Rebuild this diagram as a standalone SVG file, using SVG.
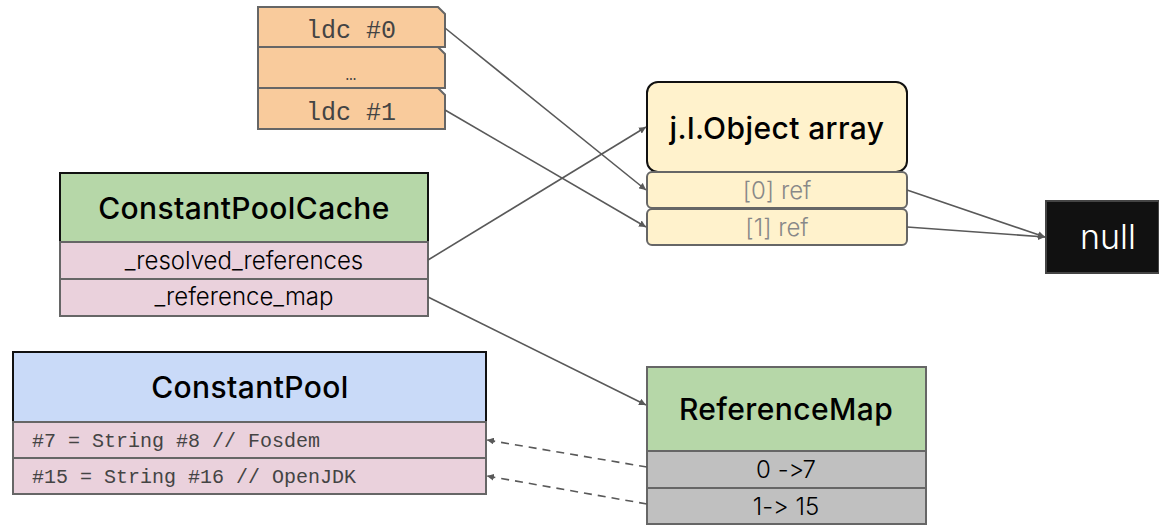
<svg xmlns="http://www.w3.org/2000/svg" width="1159" height="526" viewBox="0 0 1159 526">
<defs>
<marker id="ah" viewBox="0 0 10 10" refX="10" refY="5" markerWidth="7" markerHeight="7" markerUnits="userSpaceOnUse" orient="auto"><path d="M0,0 L10,5 L0,10 z" fill="#595959"/></marker>
<style>
.title{font-family:Inter,"Noto Sans",sans-serif;font-size:30px;font-weight:500;fill:#000;text-anchor:middle;letter-spacing:0.4px}
.row{font-family:Inter,"Noto Sans",sans-serif;font-size:24px;fill:#000;text-anchor:middle;font-weight:300;font-variant-ligatures:none;font-feature-settings:"calt" 0,"liga" 0}
.mono{font-family:"Liberation Mono",monospace;fill:#444}
.conn{stroke:#595959;stroke-width:1.6;fill:none;marker-end:url(#ah)}
.dash{stroke-dasharray:8,6}
.g{stroke:#666;stroke-width:2}
.k{stroke:#111;stroke-width:2}
</style>
</defs>
<rect width="1159" height="526" fill="#fff"/>
<g id="ldc">
<path class="g" d="M258,7 H438 L445,14 V47 H258 Z" fill="#f9cb9c"/>
<path class="g" d="M258,47 H438 L445,54 V88 H258 Z" fill="#f9cb9c"/>
<path class="g" d="M258,88 H438 L445,95 V129 H258 Z" fill="#f9cb9c"/>
<text class="mono" x="351" y="38" font-size="25" text-anchor="middle">ldc #0</text>
<text class="mono" x="351" y="80" font-size="18" text-anchor="middle">…</text>
<text class="mono" x="351" y="120" font-size="25" text-anchor="middle">ldc #1</text>
</g>
<g id="objarray">
<rect class="k" x="647" y="82" width="260" height="90" rx="11" fill="#fff2cc"/>
<text class="title" x="777" y="139">j.l.Object array</text>
<rect class="g" x="647" y="172" width="260" height="36" rx="5" fill="#fff2cc"/>
<text class="row" x="777" y="199" style="fill:#888">[0] ref</text>
<rect class="g" x="647" y="209" width="260" height="36" rx="5" fill="#fff2cc"/>
<text class="row" x="777" y="236" style="fill:#888">[1] ref</text>
</g>
<g id="null">
<rect x="1046" y="201" width="113" height="72" fill="#111" stroke="#444" stroke-width="2"/>
<text x="1108" y="249" font-family="Inter,'Noto Sans',sans-serif" font-size="34" font-weight="300" fill="#fff" text-anchor="middle">null</text>
</g>
<g id="cpcache">
<rect class="k" x="60" y="173" width="368" height="69" fill="#b6d7a8"/>
<text class="title" x="244" y="219">ConstantPoolCache</text>
<rect class="g" x="60" y="242" width="368" height="37" fill="#ead1dc"/>
<text class="row" x="244" y="269">_resolved_references</text>
<rect class="g" x="60" y="279" width="368" height="37" fill="#ead1dc"/>
<text class="row" x="244" y="305">_reference_map</text>
</g>
<g id="cp">
<rect class="k" x="13" y="352" width="473" height="70" fill="#c9daf8"/>
<text class="title" x="250" y="398">ConstantPool</text>
<rect class="g" x="13" y="422" width="473" height="36" fill="#ead1dc"/>
<text class="mono" x="32" y="447" font-size="20">#7 = String #8 // Fosdem</text>
<rect class="g" x="13" y="458" width="473" height="36" fill="#ead1dc"/>
<text class="mono" x="32" y="483" font-size="20">#15 = String #16 // OpenJDK</text>
</g>
<g id="refmap">
<rect class="g" x="647" y="367" width="279" height="84" fill="#b6d7a8"/>
<text class="title" x="786" y="420">ReferenceMap</text>
<rect class="g" x="647" y="451" width="279" height="37" fill="#c0c0c0"/>
<text class="row" x="786" y="478">0 -&gt;7</text>
<rect class="g" x="647" y="488" width="279" height="36" fill="#c0c0c0"/>
<text class="row" x="786" y="515">1-&gt; 15</text>
</g>
<g id="connectors">
<line class="conn" x1="445" y1="28" x2="646" y2="190"/>
<line class="conn" x1="445" y1="110" x2="646" y2="227"/>
<line class="conn" x1="428" y1="260" x2="646" y2="127"/>
<line class="conn" x1="428" y1="297" x2="646" y2="405"/>
<line class="conn" x1="907" y1="190" x2="1045" y2="237"/>
<line class="conn" x1="907" y1="227" x2="1045" y2="237"/>
<line class="conn dash" x1="647" y1="467" x2="487" y2="440"/>
<line class="conn dash" x1="647" y1="504" x2="487" y2="476"/>
</g>
</svg>
